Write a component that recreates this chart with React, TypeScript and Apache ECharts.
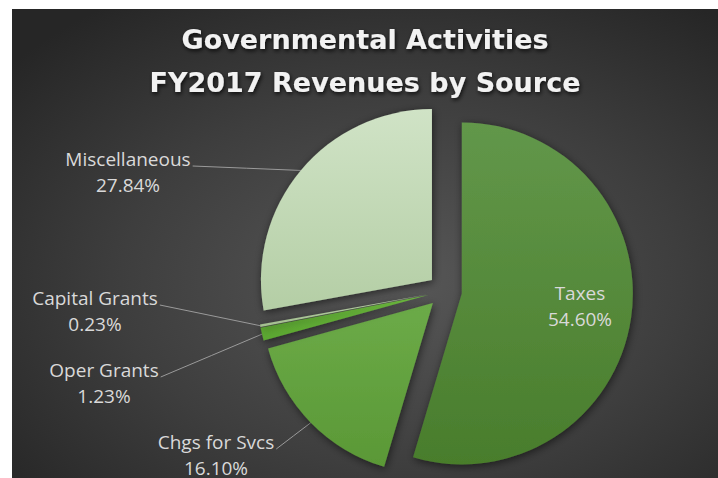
import React, { useEffect, useRef } from 'react';
import * as echarts from 'echarts';

const categories = ['Taxes', 'Chgs for Svcs', 'Oper Grants', 'Capital Grants', 'Miscellaneous'];
const values = [54.6, 16.1, 1.23, 0.23, 27.84];
const titleLines = ['Governmental Activities', 'FY2017 Revenues by Source'];

const SLICE_COLORS: string[][] = [
  ['#62974a', '#497d2c'],
  ['#6cab48', '#5a9836'],
  ['#6cb83e', '#5aa62f'],
  ['#b7cfa6', '#a3bf8f'],
  ['#d0e3c6', '#b4cea5'],
];
// label block centres (layout only)
const LABEL_POS: number[][] = [
  [580, 306],
  [216, 455],
  [104, 383],
  [95, 311],
  [128, 172],
];

const CENTER = [445, 291];
const RADIUS = 171;
const EXPLODE = 17;

export default function App() {
  const ref = useRef<HTMLDivElement>(null);
  useEffect(() => {
    if (!ref.current) return;
    const chart = echarts.init(ref.current, undefined, { renderer: 'svg' });
    const total = values.reduce((a, b) => a + b, 0);
    const grad = (i: number) =>
      new echarts.graphic.LinearGradient(0, 0, 0, 1, [
        { offset: 0, color: SLICE_COLORS[i][0] },
        { offset: 1, color: SLICE_COLORS[i][1] },
      ]);
    const option: any = {
      animation: false,
      backgroundColor: '#ffffff',
      graphic: [
        {
          type: 'rect',
          z: -10,
          silent: true,
          shape: { x: 12, y: 9, width: 706, height: 469 },
          style: {
            fill: new echarts.graphic.RadialGradient(0.55, 0.58, 0.72, [
              { offset: 0, color: '#575757' },
              { offset: 0.55, color: '#3e3e3e' },
              { offset: 1, color: '#262626' },
            ]),
          },
        },
        {
          type: 'text',
          z: 100,
          silent: true,
          x: 365,
          y: 18,
          style: {
            text: titleLines.join('\n'),
            fill: '#f2f2f2',
            font: 'bold 27px "DejaVu Sans"',
            lineHeight: 43,
            align: 'center',
            verticalAlign: 'top',
            textShadowColor: 'rgba(0,0,0,0.8)',
            textShadowBlur: 4,
            textShadowOffsetX: 1,
            textShadowOffsetY: 2,
          },
        },
      ],
      series: [
        {
          type: 'pie',
          center: CENTER,
          radius: RADIUS,
          startAngle: 90,
          selectedMode: 'multiple',
          selectedOffset: EXPLODE,
          label: { show: false },
          labelLine: { show: false },
          emphasis: { disabled: true },
          data: categories.map((name, i) => ({
            name,
            value: values[i],
            selected: true,
            itemStyle: {
              color: grad(i),
              borderWidth: 0,
              shadowBlur: 8,
              shadowColor: 'rgba(0,0,0,0.55)',
              shadowOffsetX: 1,
              shadowOffsetY: 2,
            },
            select: {
              itemStyle: {
                color: grad(i),
                borderWidth: 0,
                shadowBlur: 8,
                shadowColor: 'rgba(0,0,0,0.55)',
                shadowOffsetX: 1,
                shadowOffsetY: 2,
              },
            },
          })),
        },
        {
          type: 'pie',
          center: CENTER,
          radius: RADIUS + EXPLODE,
          startAngle: 90,
          silent: true,
          avoidLabelOverlap: false,
          itemStyle: { color: 'rgba(0,0,0,0)' },
          emphasis: { disabled: true },
          label: {
            show: true,
            position: 'outside',
            formatter: (p: any) => `${p.name}\n${((p.value / total) * 100).toFixed(2)}%`,
            color: '#d9d9d9',
            fontFamily: '"Open Sans"',
            fontSize: 19,
            lineHeight: 26,
            align: 'center',
          },
          labelLine: {
            show: true,
            length: 10,
            length2: 10,
            lineStyle: { color: '#9a9a9a', width: 1 },
          },
          labelLayout: (p: any) => {
            const i = p.dataIndex;
            const [x, y] = LABEL_POS[i];
            const res: any = { x, y, align: 'center', verticalAlign: 'middle' };
            if (i !== 0 && p.labelLinePoints && p.labelRect) {
              const start = p.labelLinePoints[0];
              const end = [x + p.labelRect.width / 2 + 2, y - p.labelRect.height / 2 + 20];
              res.labelLinePoints = [
                start,
                [(start[0] + end[0]) / 2, (start[1] + end[1]) / 2],
                end,
              ];
            }
            return res;
          },
          data: categories.map((name, i) => ({
            name,
            value: values[i],
            label: i === 0 ? { position: 'inside' } : undefined,
            labelLine: i === 0 ? { show: false } : undefined,
          })),
        },
      ],
    };
    chart.setOption(option);
    return () => chart.dispose();
  }, []);
  return (
    <div
      ref={ref}
      style={{ position: 'absolute', left: 0, top: 0, width: 718, height: 478 }}
    />
  );
}
